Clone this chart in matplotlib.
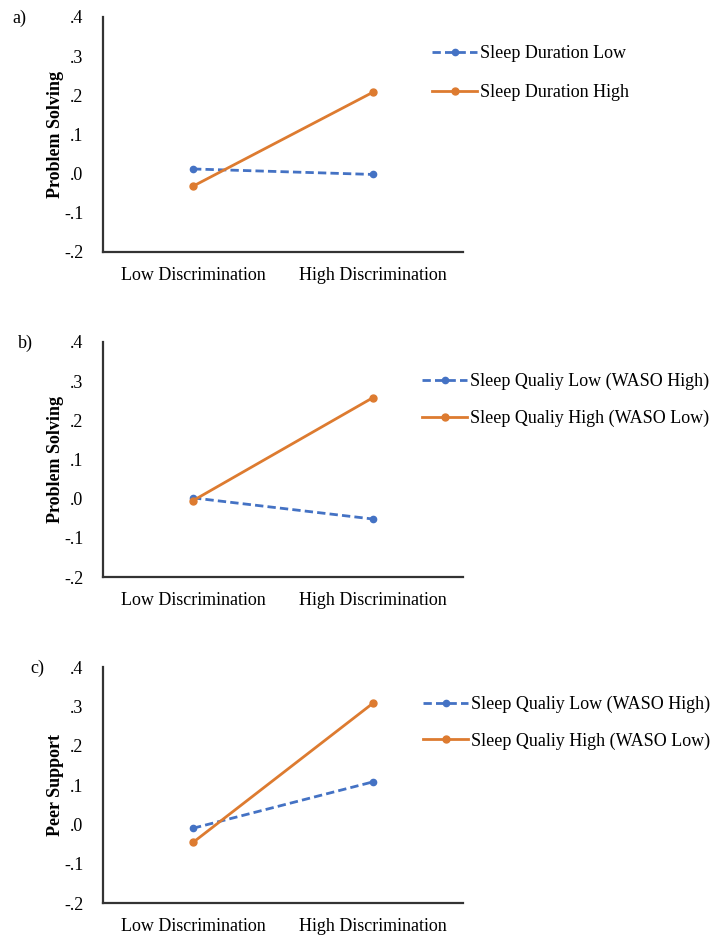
import matplotlib
matplotlib.use("Agg")
import matplotlib.pyplot as plt

plt.rcParams['font.family'] = ['Liberation Serif', 'DejaVu Serif']

categories = ["Low Discrimination", "High Discrimination"]
yticks = [-0.2, -0.1, 0.0, 0.1, 0.2, 0.3, 0.4]
ytick_labels = ["-.2", "-.1", ".0", ".1", ".2", ".3", ".4"]

# Panel a
a_low = [0.012, -0.002]
a_high = [-0.032, 0.208]
a_labels = ["Sleep Duration Low", "Sleep Duration High"]
# Panel b
b_low = [0.002, -0.052]
b_high = [-0.005, 0.258]
b_labels = ["Sleep Qualiy Low (WASO High)", "Sleep Qualiy High (WASO Low)"]
# Panel c
c_low = [-0.010, 0.108]
c_high = [-0.046, 0.308]
c_labels = ["Sleep Qualiy Low (WASO High)", "Sleep Qualiy High (WASO Low)"]

panels = [
    ("a)", "Problem Solving", a_low, a_high, a_labels),
    ("b)", "Problem Solving", b_low, b_high, b_labels),
    ("c)", "Peer Support", c_low, c_high, c_labels),
]

W, H = 711, 936
fig = plt.figure(figsize=(W / 100, H / 100), dpi=100)

axes_px = [(17, 252), (342, 577), (667, 903)]
legend_px = [(432, 52), (422, 380), (423, 703)]
legend_sp = [1.22, 1.1, 1.05]
tag_px = [12, 18, 30]
left_px, right_px = 103, 463

blue = "#4472C4"
orange = "#DD7B30"
fs = 13

for i, (tag, ylab, low, high, labs) in enumerate(panels):
    top, bot = axes_px[i]
    ax = fig.add_axes([left_px / W, 1 - bot / H, (right_px - left_px) / W, (bot - top) / H])
    x = list(range(len(categories)))
    ax.plot(x, low, linestyle="--", color=blue, lw=2, marker="o", ms=4.5, label=labs[0],
            dashes=(3, 1.5))
    ax.plot(x, high, linestyle="-", color=orange, lw=2, marker="o", ms=5, label=labs[1])
    ax.set_xlim(-0.5, 1.5)
    ax.set_ylim(-0.2, 0.4)
    ax.set_xticks(x)
    ax.set_xticklabels(categories, fontsize=fs)
    ax.set_yticks(yticks)
    ax.set_yticklabels(ytick_labels, fontsize=fs)
    ax.tick_params(axis='y', length=0, pad=14)
    ax.tick_params(axis='x', length=0, pad=11)
    for s in ["top", "right"]:
        ax.spines[s].set_visible(False)
    for s in ["left", "bottom"]:
        ax.spines[s].set_color("#333333")
        ax.spines[s].set_linewidth(1.6)
    ax.set_ylabel(ylab, fontsize=fs, fontweight="bold")
    ax.yaxis.set_label_coords(-(103 - 64) / (right_px - left_px), 0.5)
    fig.text(tag_px[i] / W, 1 - (top + 1) / H, tag, fontsize=fs, ha="left", va="center")
    lx, ly = legend_px[i]
    ax.legend(loc="upper left", bbox_to_anchor=(lx / W, 1 - (ly - 7) / H),
              bbox_transform=fig.transFigure, frameon=False, fontsize=fs,
              handlelength=2.5, handletextpad=0.17, labelspacing=legend_sp[i], borderpad=0,
              borderaxespad=0)

fig.savefig("out.png", dpi=100)
